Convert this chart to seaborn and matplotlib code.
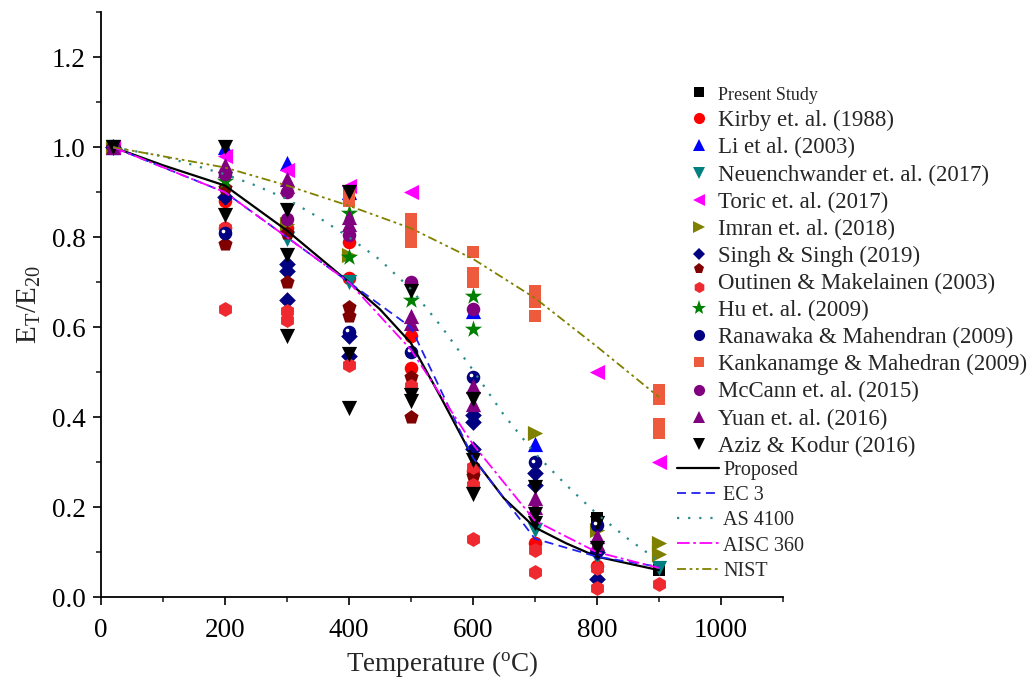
import matplotlib
matplotlib.use("Agg")
import matplotlib.pyplot as plt
import seaborn as sns
from matplotlib.lines import Line2D
from matplotlib.legend_handler import HandlerBase
from matplotlib.ticker import MultipleLocator
from matplotlib.transforms import offset_copy

# ---------------- data ----------------
present_t = [20, 800, 900]
present_v = [1.0, 0.175, 0.06]
kirby_t = [20, 200, 200, 300, 400, 400, 500, 500, 600, 700, 800]
kirby_v = [1.0, 0.88, 0.82, 0.82, 0.79, 0.71, 0.58, 0.51, 0.28, 0.12, 0.07]
li_t = [20, 200, 300, 400, 600, 700]
li_v = [1.0, 1.0, 0.965, 0.90, 0.635, 0.34]
neu_t = [20, 200, 300, 400, 700, 800, 900]
neu_v = [1.0, 0.93, 0.795, 0.70, 0.15, 0.09, 0.065]
toric_t = [20, 200, 300, 400, 500, 800, 900]
toric_v = [1.0, 0.98, 0.95, 0.915, 0.90, 0.50, 0.30]
imran_t = [20, 300, 400, 700, 800, 900, 900]
imran_v = [1.0, 0.83, 0.76, 0.365, 0.15, 0.12, 0.095]
singh_t = [20, 200, 300, 300, 300, 400, 400, 600, 600, 600, 700, 700, 800, 800]
singh_v = [1.0, 0.89, 0.74, 0.725, 0.66, 0.58, 0.535, 0.405, 0.39, 0.33, 0.275, 0.25, 0.10, 0.04]
outinen_t = [20, 200, 200, 300, 300, 400, 400, 500, 500, 600]
outinen_v = [1.0, 0.91, 0.785, 0.81, 0.70, 0.645, 0.625, 0.49, 0.40, 0.27]
huhex_t = [200, 200, 300, 300, 400, 500, 600, 600, 600, 700, 700, 800, 800, 900]
huhex_v = [0.82, 0.64, 0.635, 0.615, 0.515, 0.47, 0.29, 0.25, 0.13, 0.105, 0.055, 0.065, 0.02, 0.03]
hustar_t = [200, 400, 400, 500, 600, 600]
hustar_v = [0.925, 0.855, 0.755, 0.66, 0.67, 0.595]
rana_t = [200, 400, 500, 600, 700, 800]
rana_v = [0.81, 0.59, 0.545, 0.49, 0.30, 0.16]
kank_t = [400, 400, 500, 500, 500, 600, 600, 600, 700, 700, 700, 900, 900, 900, 900]
kank_v = [0.90, 0.88, 0.84, 0.815, 0.79, 0.768, 0.72, 0.70, 0.68, 0.655, 0.625, 0.46, 0.44, 0.385, 0.365]
mccann_t = [20, 200, 300, 300, 400, 500, 600]
mccann_v = [1.0, 0.94, 0.90, 0.84, 0.805, 0.70, 0.64]
yuan_t = [20, 200, 200, 300, 300, 400, 400, 500, 500, 600, 600, 700, 700, 800, 800]
yuan_v = [1.0, 0.96, 0.95, 0.93, 0.915, 0.845, 0.83, 0.625, 0.61, 0.47, 0.43, 0.22, 0.20, 0.135, 0.12]
aziz_t = [20, 200, 200, 300, 300, 300, 400, 400, 400, 500, 500, 500, 600, 600, 600, 700, 700, 700, 800, 800]
aziz_v = [1.0, 1.0, 0.85, 0.86, 0.76, 0.58, 0.90, 0.54, 0.42, 0.68, 0.45, 0.435, 0.44, 0.305, 0.23, 0.245, 0.185, 0.165, 0.165, 0.11]

proposed_t = [20, 100, 200, 300, 400, 450, 500, 550, 600, 650, 700, 750, 800, 850, 900]
proposed_v = [1.0, 0.96, 0.915, 0.815, 0.70, 0.64, 0.565, 0.44, 0.31, 0.22, 0.155, 0.12, 0.09, 0.075, 0.06]
ec3_t = [20, 200, 300, 400, 500, 600, 700, 800, 900]
ec3_v = [1.0, 0.90, 0.80, 0.70, 0.60, 0.31, 0.13, 0.09, 0.0675]
as4100_t = [20, 100, 150, 200, 250, 300, 350, 400, 450, 500, 550, 600, 650, 700, 750, 800, 850, 900]
as4100_v = [1.0, 0.98, 0.96, 0.94, 0.915, 0.885, 0.845, 0.80, 0.75, 0.685, 0.60, 0.505, 0.405, 0.32, 0.25, 0.185, 0.13, 0.08]
aisc_t = [20, 200, 300, 400, 500, 600, 700, 800, 900]
aisc_v = [1.0, 0.90, 0.80, 0.70, 0.55, 0.34, 0.17, 0.10, 0.065]
nist_t = [20, 100, 200, 300, 400, 500, 600, 700, 800, 900]
nist_v = [1.0, 0.98, 0.955, 0.915, 0.87, 0.82, 0.752, 0.665, 0.557, 0.445]

legend_labels = ["Present Study", "Kirby et. al. (1988)", "Li et al. (2003)",
                 "Neuenchwander et. al. (2017)", "Toric et. al. (2017)", "Imran et. al. (2018)",
                 "Singh & Singh (2019)", "Outinen & Makelainen (2003)", "Hu et. al. (2009)",
                 "Ranawaka & Mahendran (2009)", "Kankanamge & Mahedran (2009)",
                 "McCann et. al. (2015)", "Yuan et. al. (2016)", "Aziz & Kodur (2016)"]
line_labels = ["Proposed", "EC 3", "AS 4100", "AISC 360", "NIST"]

# ---------------- style ----------------
sns.set_theme(style="ticks")
plt.rcParams["font.family"] = ["Liberation Serif", "DejaVu Serif"]
plt.rcParams["mathtext.fontset"] = "custom"
plt.rcParams["mathtext.rm"] = "Liberation Serif"
plt.rcParams["mathtext.it"] = "Liberation Serif:italic"

fig = plt.figure(figsize=(10.3, 6.84), dpi=100)
ax = fig.add_axes([0.098, 0.127, 0.662, 0.855])

series = [
    (present_t, present_v, "s", "#000000", 75),
    (kirby_t, kirby_v, "o", "#ff0000", 95),
    (li_t, li_v, "^", "#0000ff", 120),
    (neu_t, neu_v, "v", "#008080", 120),
    (toric_t, toric_v, "<", "#ff00ff", 120),
    (imran_t, imran_v, ">", "#808000", 120),
    (singh_t, singh_v, "D", "#000080", 72),
    (outinen_t, outinen_v, "p", "#800000", 115),
    (huhex_t, huhex_v, "h", "#ee2a30", 115),
    (hustar_t, hustar_v, "*", "#008000", 170),
    (rana_t, rana_v, "o", "#000080", 95),
    (kank_t, kank_v, "s", "#ee5a3c", 75),
    (mccann_t, mccann_v, "o", "#800080", 95),
    (yuan_t, yuan_v, "^", "#800080", 120),
    (aziz_t, aziz_v, "v", "#000000", 120),
]
for t, v, m, c, s in series:
    sns.scatterplot(x=t, y=v, marker=m, color=c, s=s, linewidth=0, ax=ax,
                    legend=False, zorder=3)
# highlight on the "sphere" markers
ax.scatter(rana_t, rana_v, s=7, color="white", linewidths=0, zorder=3.5,
           transform=offset_copy(ax.transData, fig=fig, x=-1.2, y=1.2, units="points"))

lines = [
    (proposed_t, proposed_v, "#000000", "-", 1.6),
    (ec3_t, ec3_v, "#2222ee", (0, (5, 3)), 1.3),
    (as4100_t, as4100_v, "#2a8a8a", (0, (1, 4)), 1.6),
    (aisc_t, aisc_v, "#ff00ff", (0, (7, 2, 1.5, 2)), 1.3),
    (nist_t, nist_v, "#808000", (0, (5, 2, 1.5, 2, 1.5, 2)), 1.3),
]
for t, v, c, ls, lw in lines:
    sns.lineplot(x=t, y=v, color=c, linestyle=ls, linewidth=lw, ax=ax,
                 sort=False, estimator=None, zorder=4)

# ---------------- axes ----------------
ax.set_xlim(0, 1100)
ax.set_ylim(0, 1.3)
ax.xaxis.set_major_locator(MultipleLocator(200))
ax.xaxis.set_minor_locator(MultipleLocator(100))
ax.yaxis.set_major_locator(MultipleLocator(0.2))
ax.yaxis.set_minor_locator(MultipleLocator(0.1))
ax.tick_params(which="major", direction="out", length=6, width=1.2, labelsize=19.5,
               colors="black")
ax.tick_params(axis="x", which="major", pad=9)
ax.tick_params(axis="y", which="major", pad=5)
ax.tick_params(which="minor", direction="out", length=3.5, width=1.2)
for sp in ["top", "right"]:
    ax.spines[sp].set_visible(False)
for sp in ["left", "bottom"]:
    ax.spines[sp].set_linewidth(1.3)
    ax.spines[sp].set_color("black")
ax.set_xlabel(r"Temperature ($^\mathrm{o}$C)", fontsize=19.5, labelpad=4)
ax.set_ylabel(r"E$_\mathrm{T}$/E$_{20}$", fontsize=21, labelpad=6)


# ---------------- legends ----------------
class VStack(HandlerBase):
    def create_artists(self, legend, orig_handle, xdescent, ydescent, width, height,
                       fontsize, trans):
        arts = []
        x = width / 2 - xdescent
        offs = [0.75, -0.35]
        for h, o in zip(orig_handle, offs):
            y = height / 2 - ydescent + o * height
            ln = Line2D([x], [y], marker=h.get_marker(), markersize=h.get_markersize(),
                        color=h.get_color(), linestyle="", markeredgewidth=0,
                        transform=trans)
            arts.append(ln)
        return arts


def mk(m, c, ms=8):
    return Line2D([], [], marker=m, color=c, linestyle="", markersize=ms, markeredgewidth=0)


h = [mk(m, c, 8 if m not in ("D", "s") else 6.5) for (_, _, m, c, _) in series]
handles = [h[0], h[1], h[2], h[3], h[4], h[5], h[6], (h[7], h[8]), mk("*", "#008000", 11),
           h[10], h[11], h[12], h[13], h[14]]
leg1 = fig.legend(handles, legend_labels, loc="upper left", bbox_to_anchor=(0.668, 0.877),
                  frameon=False, fontsize=16.5, handlelength=1.0, handletextpad=0.3,
                  labelspacing=0.26, borderpad=0, borderaxespad=0,
                  handler_map={tuple: VStack()})
leg1.get_texts()[0].set_fontsize(13)

lh = [Line2D([], [], color=c, linestyle=ls, linewidth=lw) for (_, _, c, ls, lw) in lines]
fig.legend(lh, line_labels, loc="upper left", bbox_to_anchor=(0.657, 0.326),
           frameon=False, fontsize=14.5, handlelength=2.1, handletextpad=0.2,
           labelspacing=0.3, borderpad=0, borderaxespad=0)

fig.savefig("out.png", dpi=100)
